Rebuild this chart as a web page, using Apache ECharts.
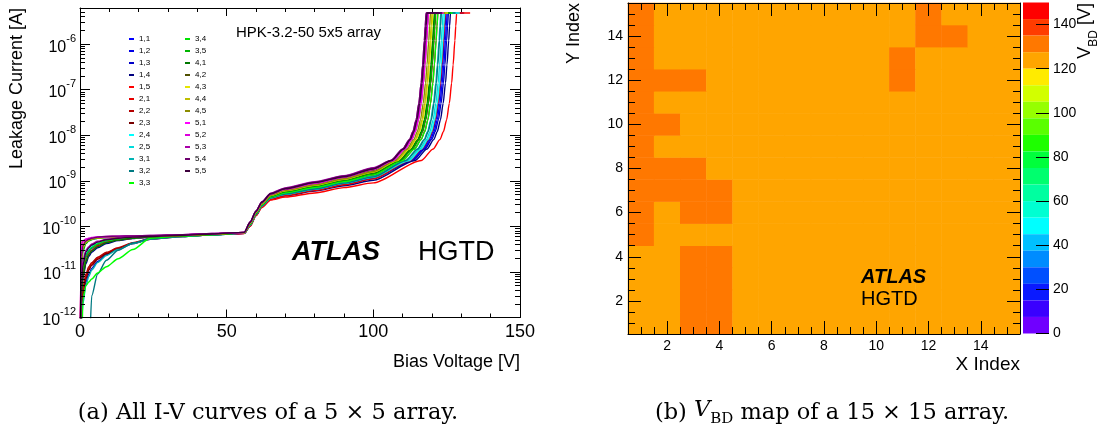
<!DOCTYPE html>
<html><head><meta charset="utf-8">
<script src="https://cdn.jsdelivr.net/npm/echarts@6/dist/echarts.min.js"></script>
<style>html,body{margin:0;padding:0;background:#fff}#c{width:1106px;height:434px}</style>
</head><body><div id="c"></div>
<script>
// ---------- (a) I-V curves ----------
const biasV = [0, 0.5, 1, 2, 3, 4, 6, 9, 13, 18, 24, 35, 45, 56, 58, 60, 62, 65, 70, 80, 90, 100];
const i11 = [1e-13, 4e-12, 1.1e-11, 2.1e-11, 2.8e-11, 3.3e-11, 4.0e-11, 4.7e-11, 5.2e-11, 5.5e-11, 5.8e-11, 6.2e-11, 6.6e-11, 7.08e-11, 1.05e-10, 1.79e-10, 2.75e-10, 4.07e-10, 4.9e-10, 6.25e-10, 8.45e-10, 1.14e-9];
const i12 = [1e-13, 5e-12, 1.3e-11, 2.4e-11, 3.0e-11, 3.5e-11, 4.2e-11, 4.8e-11, 5.3e-11, 5.6e-11, 5.9e-11, 6.2e-11, 6.6e-11, 7.08e-11, 1.05e-10, 1.8e-10, 2.77e-10, 4.1e-10, 4.95e-10, 6.3e-10, 8.5e-10, 1.15e-9];
const i13 = [1e-13, 1e-12, 2.5e-12, 6e-12, 9e-12, 1.2e-11, 1.7e-11, 2.4e-11, 3.2e-11, 4.2e-11, 5.2e-11, 6.0e-11, 6.5e-11, 7.07e-11, 1.045e-10, 1.78e-10, 2.74e-10, 4.04e-10, 4.86e-10, 6.2e-10, 8.35e-10, 1.13e-9];
const i14 = [1e-13, 2.5e-12, 7e-12, 1.5e-11, 2.2e-11, 2.7e-11, 3.4e-11, 4.2e-11, 4.9e-11, 5.4e-11, 5.8e-11, 6.2e-11, 6.6e-11, 7.04e-11, 1.02e-10, 1.74e-10, 2.69e-10, 3.94e-10, 4.68e-10, 5.93e-10, 7.8e-10, 1.03e-9];
const i15 = [1e-13, 1.5e-12, 3.5e-12, 8e-12, 1.2e-11, 1.5e-11, 2.0e-11, 2.6e-11, 3.3e-11, 4.3e-11, 5.3e-11, 6.0e-11, 6.5e-11, 7.0e-11, 1.0e-10, 1.7e-10, 2.6e-10, 3.8e-10, 4.4e-10, 5.4e-10, 7.1e-10, 9.0e-10];
const i21 = [1e-13, 3e-12, 9e-12, 1.8e-11, 2.5e-11, 3.0e-11, 3.8e-11, 4.5e-11, 5.1e-11, 5.5e-11, 5.8e-11, 6.2e-11, 6.6e-11, 7.06e-11, 1.035e-10, 1.77e-10, 2.72e-10, 4.0e-10, 4.79e-10, 6.09e-10, 8.2e-10, 1.1e-9];
const i22 = [1e-13, 2e-12, 4.5e-12, 9e-12, 1.3e-11, 1.6e-11, 2.1e-11, 2.7e-11, 3.4e-11, 4.4e-11, 5.4e-11, 6.1e-11, 6.6e-11, 7.16e-11, 1.10e-10, 1.88e-10, 2.92e-10, 4.37e-10, 5.35e-10, 6.95e-10, 9.33e-10, 1.31e-9];
const i23 = [1e-13, 1.2e-12, 3e-12, 7e-12, 1.1e-11, 1.4e-11, 1.9e-11, 2.5e-11, 3.2e-11, 4.2e-11, 5.3e-11, 6.1e-11, 6.6e-11, 7.2e-11, 1.12e-10, 1.93e-10, 3.02e-10, 4.52e-10, 5.62e-10, 7.33e-10, 9.93e-10, 1.40e-9];
const i24 = [1e-13, 6e-12, 1.5e-11, 2.6e-11, 3.2e-11, 3.7e-11, 4.3e-11, 4.9e-11, 5.3e-11, 5.6e-11, 5.9e-11, 6.3e-11, 6.7e-11, 7.1e-11, 1.07e-10, 1.83e-10, 2.84e-10, 4.22e-10, 5.13e-10, 6.61e-10, 8.91e-10, 1.22e-9];
const i25 = [1e-13, 1.5e-11, 3.2e-11, 4.4e-11, 4.9e-11, 5.2e-11, 5.5e-11, 5.7e-11, 5.8e-11, 5.9e-11, 6.0e-11, 6.3e-11, 6.7e-11, 7.1e-11, 1.065e-10, 1.82e-10, 2.82e-10, 4.19e-10, 5.08e-10, 6.54e-10, 8.8e-10, 1.2e-9];
const i31 = [1e-13, 8e-13, 2e-12, 5e-12, 8e-12, 1.1e-11, 1.6e-11, 2.3e-11, 3.1e-11, 4.2e-11, 5.3e-11, 6.0e-11, 6.5e-11, 7.12e-11, 1.085e-10, 1.85e-10, 2.88e-10, 4.3e-10, 5.24e-10, 6.78e-10, 9.1e-10, 1.26e-9];
const i32 = [1e-13, 1e-13, 1e-13, 1e-13, 1e-13, 3e-12, 9e-12, 1.8e-11, 3.0e-11, 4.3e-11, 5.4e-11, 6.0e-11, 6.5e-11, 7.1e-11, 1.07e-10, 1.83e-10, 2.84e-10, 4.22e-10, 5.13e-10, 6.61e-10, 8.91e-10, 1.22e-9];
const i33 = [1e-13, 1e-13, 2.5e-12, 5e-12, 6e-12, 7e-12, 9.5e-12, 1.3e-11, 1.95e-11, 3.1e-11, 5.5e-11, 6.1e-11, 6.5e-11, 7.18e-11, 1.11e-10, 1.9e-10, 2.97e-10, 4.45e-10, 5.48e-10, 7.14e-10, 9.6e-10, 1.35e-9];
const i34 = [1e-13, 5e-12, 1.2e-11, 2.2e-11, 2.9e-11, 3.4e-11, 4.1e-11, 4.8e-11, 5.3e-11, 5.6e-11, 5.9e-11, 6.3e-11, 6.7e-11, 7.2e-11, 1.13e-10, 1.96e-10, 3.05e-10, 4.6e-10, 5.73e-10, 7.53e-10, 1.02e-9, 1.45e-9];
const i35 = [1e-13, 1.2e-11, 2.8e-11, 4.2e-11, 4.8e-11, 5.1e-11, 5.5e-11, 5.7e-11, 5.8e-11, 5.9e-11, 6.0e-11, 6.3e-11, 6.7e-11, 7.2e-11, 1.13e-10, 1.96e-10, 3.05e-10, 4.6e-10, 5.73e-10, 7.53e-10, 1.02e-9, 1.45e-9];
const i41 = [1e-13, 3e-12, 8e-12, 1.7e-11, 2.4e-11, 2.9e-11, 3.6e-11, 4.4e-11, 5.0e-11, 5.5e-11, 5.9e-11, 6.3e-11, 6.7e-11, 7.24e-11, 1.15e-10, 2.0e-10, 3.09e-10, 4.68e-10, 5.85e-10, 7.73e-10, 1.05e-9, 1.49e-9];
const i42 = [1e-13, 2e-11, 3.6e-11, 4.6e-11, 5.0e-11, 5.3e-11, 5.6e-11, 5.8e-11, 5.9e-11, 6.0e-11, 6.1e-11, 6.4e-11, 6.8e-11, 7.33e-11, 1.2e-10, 2.09e-10, 3.27e-10, 5.01e-10, 6.4e-10, 8.59e-10, 1.17e-9, 1.71e-9];
const i43 = [2e-13, 3.2e-11, 4.2e-11, 4.9e-11, 5.2e-11, 5.4e-11, 5.6e-11, 5.8e-11, 5.9e-11, 6.0e-11, 6.1e-11, 6.4e-11, 6.8e-11, 7.24e-11, 1.16e-10, 2.02e-10, 3.12e-10, 4.76e-10, 6.0e-10, 7.93e-10, 1.08e-9, 1.55e-9];
const i44 = [1e-13, 1.8e-11, 3.4e-11, 4.5e-11, 5.0e-11, 5.3e-11, 5.6e-11, 5.8e-11, 5.9e-11, 6.0e-11, 6.1e-11, 6.4e-11, 6.8e-11, 7.24e-11, 1.17e-10, 2.03e-10, 3.14e-10, 4.8e-10, 6.08e-10, 8.03e-10, 1.09e-9, 1.57e-9];
const i45 = [1e-13, 4.6e-11, 4.8e-11, 5.0e-11, 5.2e-11, 5.4e-11, 5.6e-11, 5.7e-11, 5.8e-11, 5.9e-11, 6.0e-11, 6.3e-11, 6.7e-11, 7.24e-11, 1.175e-10, 2.04e-10, 3.16e-10, 4.84e-10, 6.17e-10, 8.13e-10, 1.11e-9, 1.6e-9];
const i51 = [2e-13, 3.8e-11, 4.6e-11, 5.1e-11, 5.4e-11, 5.6e-11, 5.8e-11, 5.9e-11, 6.0e-11, 6.1e-11, 6.2e-11, 6.5e-11, 6.9e-11, 7.35e-11, 1.21e-10, 2.11e-10, 3.33e-10, 5.1e-10, 6.54e-10, 8.85e-10, 1.2e-9, 1.76e-9];
const i52 = [3e-13, 4.0e-11, 4.8e-11, 5.3e-11, 5.5e-11, 5.7e-11, 5.9e-11, 6.0e-11, 6.1e-11, 6.2e-11, 6.3e-11, 6.6e-11, 7.0e-11, 7.4e-11, 1.22e-10, 2.13e-10, 3.36e-10, 5.15e-10, 6.62e-10, 8.98e-10, 1.22e-9, 1.8e-9];
const i53 = [1e-13, 7e-12, 1.8e-11, 3.0e-11, 3.6e-11, 4.1e-11, 4.7e-11, 5.2e-11, 5.6e-11, 5.9e-11, 6.1e-11, 6.5e-11, 6.9e-11, 7.4e-11, 1.26e-10, 2.19e-10, 3.47e-10, 5.37e-10, 7.0e-10, 9.55e-10, 1.3e-9, 1.95e-9];
const i54 = [1e-13, 2.2e-11, 3.8e-11, 4.8e-11, 5.2e-11, 5.5e-11, 5.8e-11, 6.0e-11, 6.1e-11, 6.2e-11, 6.3e-11, 6.6e-11, 7.0e-11, 7.4e-11, 1.24e-10, 2.16e-10, 3.43e-10, 5.28e-10, 6.84e-10, 9.33e-10, 1.27e-9, 1.88e-9];
const i55 = [1e-13, 5e-12, 1.4e-11, 2.7e-11, 3.4e-11, 3.9e-11, 4.5e-11, 5.1e-11, 5.5e-11, 5.8e-11, 6.0e-11, 6.4e-11, 6.8e-11, 7.4e-11, 1.23e-10, 2.14e-10, 3.39e-10, 5.19e-10, 6.68e-10, 9.12e-10, 1.23e-9, 1.82e-9];

// breakdown: voltage at which each current level is reached (last = end of compliance tail)
const bdLevels = [2.8e-9, 5e-9, 8e-9, 1.2e-8, 2.2e-8, 5e-8, 1.4e-7, 3.5e-7, 1.2e-6, 2.5e-6, 4.8e-6, 4.8e-6];
const bd11 = [113.2, 117.2, 119.5, 120.7, 121.8, 122.7, 123.5, 124.0, 124.6, 124.9, 125.2, 130];
const bd12 = [112.8, 116.8, 119.1, 120.3, 121.4, 122.3, 123.1, 123.6, 124.2, 124.5, 124.8, 129.5];
const bd13 = [113.6, 117.6, 119.9, 121.1, 122.2, 123.1, 123.9, 124.4, 125.0, 125.3, 125.6, 130.5];
const bd14 = [114.3, 118.3, 120.6, 121.8, 122.9, 123.8, 124.6, 125.1, 125.7, 126.0, 126.3, 131];
const bd15 = [116.4, 120.4, 122.7, 123.9, 125.0, 125.9, 126.7, 127.2, 127.8, 128.1, 128.4, 133];
const bd21 = [112.5, 116.5, 118.8, 120.0, 121.1, 122.0, 122.8, 123.3, 123.9, 124.2, 124.5, 129];
const bd22 = [110, 114, 116.3, 117.5, 118.6, 119.5, 120.3, 120.8, 121.4, 121.7, 122, 127];
const bd23 = [109.3, 113.3, 115.6, 116.8, 117.9, 118.8, 119.6, 120.1, 120.7, 121.0, 121.3, 126];
const bd24 = [112.3, 116.3, 118.6, 119.8, 120.9, 121.8, 122.6, 123.1, 123.7, 124.0, 124.3, 129.5];
const bd25 = [111.8, 115.8, 118.1, 119.3, 120.4, 121.3, 122.1, 122.6, 123.2, 123.5, 123.8, 129];
const bd31 = [111, 115, 117.3, 118.5, 119.6, 120.5, 121.3, 121.8, 122.4, 122.7, 123, 128];
const bd32 = [111.2, 115.2, 117.5, 118.7, 119.8, 120.7, 121.5, 122.0, 122.6, 122.9, 123.2, 128];
const bd33 = [110, 114, 116.3, 117.5, 118.6, 119.5, 120.3, 120.8, 121.4, 121.7, 122, 127];
const bd34 = [109, 113, 115.3, 116.5, 117.6, 118.5, 119.3, 119.8, 120.4, 120.7, 121, 126];
const bd35 = [109.2, 113.2, 115.5, 116.7, 117.8, 118.7, 119.5, 120.0, 120.6, 120.9, 121.2, 126.5];
const bd41 = [108.8, 112.8, 115.1, 116.3, 117.4, 118.3, 119.1, 119.6, 120.2, 120.5, 120.8, 126];
const bd42 = [106.8, 110.8, 113.1, 114.3, 115.4, 116.3, 117.1, 117.6, 118.2, 118.5, 118.8, 124];
const bd43 = [108.3, 112.3, 114.6, 115.8, 116.9, 117.8, 118.6, 119.1, 119.7, 120.0, 120.3, 125.5];
const bd44 = [108, 112, 114.3, 115.5, 116.6, 117.5, 118.3, 118.8, 119.4, 119.7, 120, 125];
const bd45 = [107.5, 111.5, 113.8, 115.0, 116.1, 117.0, 117.8, 118.3, 118.9, 119.2, 119.5, 124.5];
const bd51 = [106.8, 110.8, 113.1, 114.3, 115.4, 116.3, 117.1, 117.6, 118.2, 118.5, 118.8, 124];
const bd52 = [106.5, 110.5, 112.8, 114.0, 115.1, 116.0, 116.8, 117.3, 117.9, 118.2, 118.5, 123.5];
const bd53 = [106, 110, 112.3, 113.5, 114.6, 115.5, 116.3, 116.8, 117.4, 117.7, 118, 123];
const bd54 = [106, 110, 112.3, 113.5, 114.6, 115.5, 116.3, 116.8, 117.4, 117.7, 118, 122.5];
const bd55 = [106.3, 110.3, 112.6, 113.8, 114.9, 115.8, 116.6, 117.1, 117.7, 118.0, 118.3, 123.5];

const padNames = ['1,1','1,2','1,3','1,4','1,5','2,1','2,2','2,3','2,4','2,5','3,1','3,2','3,3','3,4','3,5','4,1','4,2','4,3','4,4','4,5','5,1','5,2','5,3','5,4','5,5'];
const padCurrents = [i11,i12,i13,i14,i15,i21,i22,i23,i24,i25,i31,i32,i33,i34,i35,i41,i42,i43,i44,i45,i51,i52,i53,i54,i55];
const padBreakdown = [bd11,bd12,bd13,bd14,bd15,bd21,bd22,bd23,bd24,bd25,bd31,bd32,bd33,bd34,bd35,bd41,bd42,bd43,bd44,bd45,bd51,bd52,bd53,bd54,bd55];
const padColors = ['#0000ff','#0000e6','#0000c8','#000080','#ff0000','#e60000','#b40000','#780000','#00ffff','#00dcdc','#00b4b4','#007a82','#00ff00','#00e100','#00b400','#007800','#505000','#e6e600','#bebe00','#8c8c00','#ff00ff','#dc00dc','#aa00aa','#6e006e','#3c003c'];

const decadeTicks = [1e-12, 1e-11, 1e-10, 1e-9, 1e-8, 1e-7, 1e-6];
const minorMultipliers = [2, 3, 4, 5, 6, 7, 8, 9];

// ---------- (b) V_BD map ----------
const vbdY15 = [131,124,125,123,124,125,124,123,124,125,124,130,124,125,123];
const vbdY14 = [130,125,124,124,123,124,125,124,123,124,125,131,129,124,124];
const vbdY13 = [131,124,123,125,124,124,123,125,124,123,130,124,125,124,123];
const vbdY12 = [132,130,129,124,125,123,124,124,125,124,131,125,124,123,124];
const vbdY11 = [130,124,125,123,124,125,124,123,124,125,124,124,123,125,124];
const vbdY10 = [131,129,124,124,125,124,123,124,125,124,123,125,124,124,125];
const vbdY9  = [130,125,124,123,124,124,125,124,123,124,125,124,123,124,124];
const vbdY8  = [131,130,129,124,123,125,124,125,124,123,124,124,125,124,123];
const vbdY7  = [132,130,131,129,124,124,123,124,124,125,124,123,124,125,124];
const vbdY6  = [130,124,130,129,125,124,124,125,123,124,124,125,124,123,124];
const vbdY5  = [129,125,124,124,124,123,125,124,124,125,123,124,124,124,125];
const vbdY4  = [124,124,130,131,124,125,124,123,125,124,124,124,125,124,123];
const vbdY3  = [125,123,131,130,125,124,124,124,124,123,125,124,124,123,124];
const vbdY2  = [124,124,129,130,123,124,125,124,124,124,124,123,124,125,124];
const vbdY1  = [123,125,130,131,124,124,123,125,124,124,125,124,123,124,124];
const vbdRows = [vbdY1,vbdY2,vbdY3,vbdY4,vbdY5,vbdY6,vbdY7,vbdY8,vbdY9,vbdY10,vbdY11,vbdY12,vbdY13,vbdY14,vbdY15];
const indexCats = ['1','2','3','4','5','6','7','8','9','10','11','12','13','14','15'];
const indexMajorTicks = [2, 4, 6, 8, 10, 12, 14];
const indexMinorTicks = [1,1.5,2,2.5,3,3.5,4,4.5,5,5.5,6,6.5,7,7.5,8,8.5,9,9.5,10,10.5,11,11.5,12,12.5,13,13.5,14,14.5,15];
const paletteEdges = [0,7.5,15,22.5,30,37.5,45,52.5,60,67.5,75,82.5,90,97.5,105,112.5,120,127.5,135,142.5,150];
const paletteColors = ['#7000ff','#3a00ff','#0a1aff','#0050ff','#008cff','#00c0ff','#00ffff','#00ffd2','#00ffa0','#00ff6e','#00ff3c','#1eff00','#5aff00','#96ff00','#d2ff00','#ffeb00','#ffa500','#ff7800','#ff3c00','#ff0000'];
const colorbarTicks = [0, 20, 40, 60, 80, 100, 120, 140];

// ---------- build ----------
const FONT = 'Liberation Sans';
const K = '#000';
const Y_MIN = 9.9999e-13, Y_MAX = 6.2e-6;
// tick positions expressed in log10 space for the tick-only axes
const majorExp = decadeTicks.map(d => Math.log10(d));
const minorExp = [];
decadeTicks.forEach(d => minorMultipliers.forEach(m => { if (d * m < Y_MAX) minorExp.push(Math.log10(d * m)); }));

const series = padNames.map((n, k) => ({
  type: 'line', name: n, xAxisIndex: 0, yAxisIndex: 0,
  data: biasV.map((v, j) => [v, padCurrents[k][j]]).concat(padBreakdown[k].map((v, j) => [v, bdLevels[j]])),
  showSymbol: false, symbol: 'none', smooth: 0.25, smoothMonotone: 'x', clip: true, silent: true,
  lineStyle: { width: 1.4, color: padColors[k] }, itemStyle: { color: padColors[k] }, z: 2
}));
const heatData = [];
vbdRows.forEach((row, yi) => row.forEach((v, xi) => heatData.push([xi, yi, v])));
series.push({ type: 'heatmap', xAxisIndex: 2, yAxisIndex: 5, data: heatData, silent: true, z: 2 });

const line = { onZero: false, lineStyle: { color: K, width: 1 } };
const noSplit = { show: false };
function tickAxis(pos, major, showLine) {
  return { gridIndex: 0, type: 'value', min: Math.log10(Y_MIN), max: Math.log10(Y_MAX), position: pos, z: 10,
    axisLine: Object.assign({ show: showLine }, line),
    axisTick: { inside: true, length: major ? 10 : 5, customValues: major ? majorExp : minorExp, lineStyle: { color: K } },
    axisLabel: { show: false }, splitLine: noSplit };
}
function idxAxis(pos, major, labels) {
  return { gridIndex: 1, type: 'value', min: 0.5, max: 15.5, position: pos, z: 10,
    axisLine: Object.assign({ show: !major }, line),
    axisTick: { inside: true, length: major ? 13 : 7, customValues: major ? indexMajorTicks : indexMinorTicks, lineStyle: { color: K } },
    axisLabel: labels ? { customValues: indexMajorTicks, fontSize: 14, fontFamily: FONT, color: K, margin: 5 } : { show: false },
    splitLine: noSplit };
}
function ivX(pos, labels) {
  return { gridIndex: 0, type: 'value', min: 0, max: 150, interval: 50, position: pos, z: 10,
    axisLine: line, axisTick: { inside: true, length: 8, lineStyle: { color: K } },
    minorTick: { show: true, splitNumber: 5, length: 4, lineStyle: { color: K } },
    axisLabel: labels ? { fontSize: 18, fontFamily: FONT, color: K, margin: 6 } : { show: false },
    splitLine: noSplit, minorSplitLine: noSplit };
}

const legendBase = { orient: 'vertical', top: 34, itemWidth: 5, itemHeight: 2, itemGap: 2, icon: 'rect', padding: 0,
  selectedMode: false, textStyle: { fontSize: 8, lineHeight: 10, fontFamily: FONT, color: K } };

const txt = (x, y, text, font, align, extra) => Object.assign({ type: 'text', x, y, silent: true, z: 100,
  style: { text, font, fill: K, align: align || 'left', verticalAlign: 'middle', textAlign: align || 'left', textVerticalAlign: 'middle' } }, extra || {});

const option = {
  animation: false,
  backgroundColor: '#fff',
  grid: [
    { left: 80, top: 8, width: 440, height: 309.5 },
    { left: 628, top: 3, width: 392, height: 331 },
    { left: 1023, top: 2.5, width: 26, height: 331 }
  ],
  xAxis: [
    ivX('bottom', true), ivX('top', false),
    { gridIndex: 1, type: 'category', data: indexCats, show: false },
    idxAxis('bottom', false, false), idxAxis('bottom', true, true),
    idxAxis('top', false, false), idxAxis('top', true, false),
    { gridIndex: 2, type: 'value', show: false, min: 0, max: 1 }
  ],
  yAxis: [
    { gridIndex: 0, type: 'log', logBase: 10, min: Y_MIN, max: Y_MAX, position: 'left', z: 10,
      axisLine: Object.assign({ show: true }, line), axisTick: { show: false },
      axisLabel: { customValues: decadeTicks, margin: 4, color: K,
        formatter: v => '{b|10}{s|' + Math.round(Math.log10(v)) + '}',
        rich: { b: { fontSize: 16, fontFamily: FONT, color: K, lineHeight: 22, verticalAlign: 'bottom' },
                s: { fontSize: 11, fontFamily: FONT, color: K, lineHeight: 22, verticalAlign: 'top' } } },
      splitLine: noSplit },
    tickAxis('left', true, false), tickAxis('left', false, false),
    tickAxis('right', true, true), tickAxis('right', false, false),
    { gridIndex: 1, type: 'category', data: indexCats, show: false },
    idxAxis('left', false, false), idxAxis('left', true, true),
    idxAxis('right', false, false), idxAxis('right', true, false),
    { gridIndex: 2, type: 'value', min: 0, max: 150, position: 'right', z: 10,
      axisLine: { show: false, onZero: false },
      axisTick: { inside: true, length: 13, customValues: colorbarTicks, lineStyle: { color: K } },
      axisLabel: { customValues: colorbarTicks, fontSize: 14, fontFamily: FONT, color: K, margin: 4 },
      splitLine: noSplit }
  ],
  legend: [
    Object.assign({ left: 129, data: padNames.slice(0, 13) }, legendBase),
    Object.assign({ left: 185, data: padNames.slice(13) }, legendBase)
  ],
  visualMap: {
    type: 'piecewise', seriesIndex: 25, dimension: 2, orient: 'vertical', left: 1023, top: 2.5, padding: 0,
    itemWidth: 26, itemHeight: 331 / 20, itemGap: 0, itemSymbol: 'rect', showLabel: false, selectedMode: false, hoverLink: false,
    pieces: paletteColors.map((c, k) => k === paletteColors.length - 1
      ? { gte: paletteEdges[k], lte: paletteEdges[k + 1], color: c }
      : { gte: paletteEdges[k], lt: paletteEdges[k + 1], color: c })
  },
  graphic: [
    txt(17.5, 8, 'Leakage Current [A]', '18px "Liberation Sans"', 'right', { rotation: Math.PI / 2 }),
    txt(520, 362, 'Bias Voltage [V]', '18px "Liberation Sans"', 'right'),
    txt(236, 33, 'HPK-3.2-50 5x5 array', '15px "Liberation Sans"', 'left'),
    txt(292, 253, 'ATLAS', 'italic bold 27px "Liberation Sans"', 'left'),
    txt(418, 253, 'HGTD', '27px "Liberation Sans"', 'left'),
    txt(574, 3, 'Y Index', '18px "Liberation Sans"', 'right', { rotation: Math.PI / 2 }),
    txt(1020, 365, 'X Index', '19px "Liberation Sans"', 'right'),
    txt(861, 277, 'ATLAS', 'italic bold 20px "Liberation Sans"', 'left'),
    txt(861, 299, 'HGTD', '20px "Liberation Sans"', 'left'),
    { type: 'text', x: 1088, y: 3, rotation: Math.PI / 2, silent: true, z: 100,
      style: { text: '{v|V}{s|BD}{v| [V]}', fill: K, align: 'right', verticalAlign: 'middle', textAlign: 'right', textVerticalAlign: 'middle',
        rich: { v: { fontSize: 18, fontFamily: FONT, lineHeight: 24, verticalAlign: 'top' },
                s: { fontSize: 12, fontFamily: FONT, lineHeight: 24, verticalAlign: 'bottom' } } } },
    txt(268, 413, '(a) All I-V curves of a 5 × 5 array.', '22.5px "DejaVu Serif"', 'center'),
    { type: 'text', x: 832, y: 413, silent: true, z: 100,
      style: { text: '(b) {i|V}{s|BD} map of a 15 × 15 array.', font: '22.5px "DejaVu Serif"', fill: K,
        align: 'center', verticalAlign: 'middle', textAlign: 'center', textVerticalAlign: 'middle',
        rich: { i: { fontSize: 22.5, fontFamily: 'DejaVu Serif', fontStyle: 'italic', lineHeight: 28, verticalAlign: 'top' },
                s: { fontSize: 15, fontFamily: 'DejaVu Serif', lineHeight: 28, verticalAlign: 'bottom' } } } }
  ],
  series
};
const chart = echarts.init(document.getElementById('c'), null, { renderer: 'canvas' });
chart.setOption(option);
</script>
</body></html>
